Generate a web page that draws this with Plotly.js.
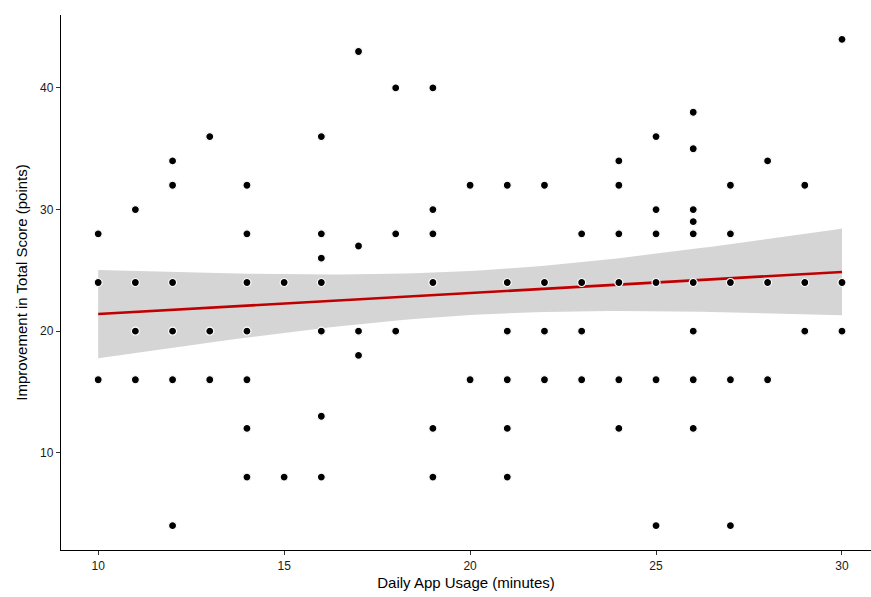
<!DOCTYPE html>
<html>
<head>
<meta charset="utf-8">
<script src="https://cdn.plot.ly/plotly-3.0.1.min.js"></script>
<style>
  html, body { margin: 0; padding: 0; background: #ffffff; overflow: hidden; }
  #chart { width: 871px; height: 597px; }
</style>
</head>
<body>
<div id="chart"></div>
<script>
// Daily app usage (minutes) and the improvement values observed at each usage level
const usageMinutes = [10, 11, 12, 13, 14, 15, 16, 17, 18, 19, 20, 21, 22, 23, 24, 25, 26, 27, 28, 29, 30];
const improvementByUsage = [
  [28, 24, 16],
  [30, 24, 20, 16],
  [34, 32, 24, 20, 16, 4],
  [36, 20, 16],
  [32, 28, 24, 20, 16, 12, 8],
  [24, 8],
  [36, 28, 26, 24, 20, 13, 8],
  [43, 27, 20, 18],
  [40, 28, 20],
  [40, 30, 28, 24, 12, 8],
  [32, 16],
  [32, 24, 20, 16, 12, 8],
  [32, 24, 20, 16],
  [28, 24, 20, 16],
  [34, 32, 28, 24, 16, 12],
  [36, 30, 28, 24, 16, 4],
  [38, 35, 30, 29, 28, 24, 20, 16, 12],
  [32, 28, 24, 16, 4],
  [34, 24, 16],
  [32, 24, 20],
  [44, 24, 20]
];
const xTicks = [10, 15, 20, 25, 30];
const yTicks = [10, 20, 30, 40];

// flatten
const xs = [], ys = [];
usageMinutes.forEach((u, i) => improvementByUsage[i].forEach(v => { xs.push(u); ys.push(v); }));

// OLS fit with 95% confidence band
const n = xs.length;
const mx = xs.reduce((a, b) => a + b, 0) / n;
const my = ys.reduce((a, b) => a + b, 0) / n;
let sxx = 0, sxy = 0;
for (let i = 0; i < n; i++) { sxx += (xs[i] - mx) ** 2; sxy += (xs[i] - mx) * (ys[i] - my); }
const slope = sxy / sxx, intercept = my - slope * mx;
let sse = 0;
for (let i = 0; i < n; i++) sse += (ys[i] - (intercept + slope * xs[i])) ** 2;
const sigma = Math.sqrt(sse / (n - 2));
const tq = 1.9855;
const xmin = Math.min(...xs), xmax = Math.max(...xs);
const gx = [], gy = [], lo = [], hi = [];
for (let k = 0; k <= 80; k++) {
  const x = xmin + (xmax - xmin) * k / 80;
  const y = intercept + slope * x;
  const se = sigma * Math.sqrt(1 / n + (x - mx) ** 2 / sxx);
  gx.push(x); gy.push(y); lo.push(y - tq * se); hi.push(y + tq * se);
}

const traces = [
  { x: gx, y: lo, mode: 'lines', line: { width: 0, color: 'rgba(0,0,0,0)' }, hoverinfo: 'skip', showlegend: false },
  { x: gx, y: hi, mode: 'lines', fill: 'tonexty', fillcolor: '#d5d5d5', line: { width: 0, color: 'rgba(0,0,0,0)' }, hoverinfo: 'skip', showlegend: false },
  { x: gx, y: gy, mode: 'lines', line: { color: '#c00000', width: 2.6 }, showlegend: false },
  { x: xs, y: ys, mode: 'markers', marker: { color: '#000000', size: 8, line: { color: '#ffffff', width: 1.2 } }, showlegend: false }
];

const font = "'Liberation Sans', Arial, sans-serif";
const layout = {
  width: 871, height: 597,
  margin: { l: 61, r: 0, t: 15, b: 47 },
  paper_bgcolor: '#ffffff', plot_bgcolor: '#ffffff',
  showlegend: false,
  font: { family: font, color: '#000000' },
  xaxis: {
    range: [9, 30.78], showgrid: false, zeroline: false,
    showline: true, linecolor: '#000000', linewidth: 1.2,
    ticks: 'outside', ticklen: 4, tickwidth: 1, tickcolor: '#333333',
    tickvals: xTicks, ticktext: xTicks.map(String),
    tickfont: { size: 12, color: '#1a1a1a', family: font },
    title: { text: 'Daily App Usage (minutes)', font: { size: 15, color: '#000000', family: font }, standoff: 6 }
  },
  yaxis: {
    range: [2, 46], showgrid: false, zeroline: false,
    showline: true, linecolor: '#000000', linewidth: 1.2,
    ticks: 'outside', ticklen: 4, tickwidth: 1, tickcolor: '#333333',
    tickvals: yTicks, ticktext: yTicks.map(String),
    tickfont: { size: 12, color: '#1a1a1a', family: font },
    title: { text: 'Improvement in Total Score (points)', font: { size: 15, color: '#000000', family: font }, standoff: 8 }
  }
};

Plotly.newPlot('chart', traces, layout, { displayModeBar: false, staticPlot: true });
</script>
</body>
</html>
